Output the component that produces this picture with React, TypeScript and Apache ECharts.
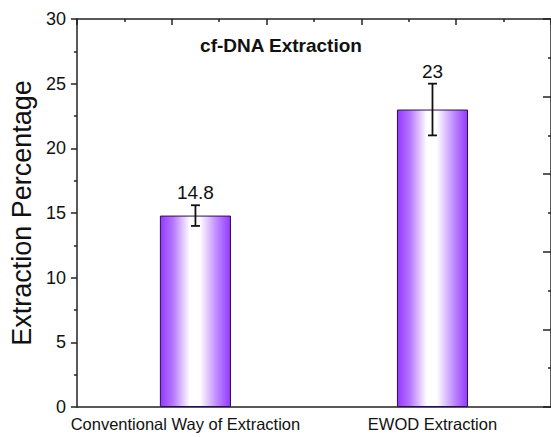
import React, { useEffect, useRef } from "react";
import * as echarts from "echarts";

const categories = ["Conventional Way of Extraction", "EWOD Extraction"];
const values = [14.8, 23];
const errors = [0.8, 2];
const valueLabels = ["14.8", "23"];
const titleText = "cf-DNA Extraction";
const yAxisName = "Extraction Percentage";

export default function App() {
  const ref = useRef<HTMLDivElement>(null);
  useEffect(() => {
    if (!ref.current) return;
    const chart = echarts.init(ref.current, null, { renderer: "svg" });
    const font = "Liberation Sans, Arial, sans-serif";
    const axisColor = "#222";
    const gradient = new echarts.graphic.LinearGradient(0, 0, 1, 0, [
      { offset: 0, color: "#9438ff" },
      { offset: 0.18, color: "#b577ff" },
      { offset: 0.42, color: "#ffffff" },
      { offset: 0.56, color: "#ffffff" },
      { offset: 0.8, color: "#c08cff" },
      { offset: 1, color: "#9438ff" },
    ]);
    chart.setOption({
      animation: false,
      backgroundColor: "#fff",
      textStyle: { fontFamily: font },
      title: {
        text: titleText,
        left: 276,
        top: 31,
        textAlign: "center",
        textStyle: { fontFamily: font, fontSize: 19, fontWeight: "bold", color: "#111" },
      },
      grid: { left: 73, right: -4, top: 19, bottom: 30, containLabel: false },
      xAxis: [
        {
          type: "category",
          position: "bottom",
          data: [
            { value: categories[0], textStyle: { padding: [0, 20, 0, 0] } },
            { value: categories[1] },
          ],
          axisLine: { onZero: false, lineStyle: { color: axisColor, width: 1.5 } },
          axisTick: { alignWithLabel: true, length: 5, lineStyle: { color: axisColor, width: 1.5 } },
          axisLabel: { interval: 0, fontFamily: font, fontSize: 16.5, color: "#111", margin: 8 },
        },
        {
          type: "value",
          position: "top",
          min: 0,
          max: 5,
          interval: 1,
          axisLine: { show: true, onZero: false, lineStyle: { color: axisColor, width: 1.5 } },
          axisTick: { show: true, inside: true, length: 6, lineStyle: { color: axisColor, width: 1.5 } },
          minorTick: { show: true, splitNumber: 2, length: 3, lineStyle: { color: axisColor, width: 1.5 } },
          axisLabel: { show: false },
          splitLine: { show: false },
        },
      ],
      yAxis: [
        {
          type: "value",
          position: "left",
          min: 0,
          max: 30,
          interval: 5,
          name: yAxisName,
          nameLocation: "middle",
          nameGap: 38,
          nameTextStyle: { fontFamily: font, fontSize: 27, color: "#111" },
          axisLine: { show: true, onZero: false, lineStyle: { color: axisColor, width: 1.5 } },
          axisTick: { show: true, length: 6, lineStyle: { color: axisColor, width: 1.5 } },
          minorTick: { show: true, splitNumber: 2, length: 3, lineStyle: { color: axisColor, width: 1.5 } },
          axisLabel: { fontFamily: font, fontSize: 18, color: "#111", margin: 11 },
          splitLine: { show: false },
        },
        {
          type: "value",
          position: "right",
          min: 0,
          max: 5,
          interval: 1,
          axisLine: { show: true, onZero: false, lineStyle: { color: axisColor, width: 1.5 } },
          axisTick: { show: true, inside: true, length: 8, lineStyle: { color: axisColor, width: 1.5 } },
          minorTick: { show: true, splitNumber: 2, length: 3, lineStyle: { color: axisColor, width: 1.5 } },
          axisLabel: { show: false },
          splitLine: { show: false },
        },
      ],
      series: [
        {
          type: "bar",
          xAxisIndex: 0,
          yAxisIndex: 0,
          data: values,
          barWidth: "30%",
          itemStyle: { color: gradient, borderColor: "#2b1048", borderWidth: 1 },
        },
        {
          type: "custom",
          xAxisIndex: 0,
          yAxisIndex: 0,
          data: values.map((v, i) => [i, v, errors[i]]),
          z: 10,
          renderItem: (params: any, api: any) => {
            const idx = api.value(0);
            const v = api.value(1);
            const e = api.value(2);
            const top = api.coord([idx, v + e]);
            const bot = api.coord([idx, v - e]);
            const hw = 4.5;
            const st = { stroke: "#111", lineWidth: 1.8 };
            return {
              type: "group",
              children: [
                { type: "line", shape: { x1: top[0], y1: top[1], x2: bot[0], y2: bot[1] }, style: st },
                { type: "line", shape: { x1: top[0] - hw, y1: top[1], x2: top[0] + hw, y2: top[1] }, style: st },
                { type: "line", shape: { x1: bot[0] - hw, y1: bot[1], x2: bot[0] + hw, y2: bot[1] }, style: st },
                {
                  type: "text",
                  x: top[0],
                  y: top[1] - 3,
                  style: {
                    text: valueLabels[params.dataIndex],
                    fontFamily: font,
                    fontSize: 19,
                    fill: "#111",
                    align: "center",
                    verticalAlign: "bottom",
                  },
                },
              ],
            };
          },
        },
      ],
    });
    return () => chart.dispose();
  }, []);
  return <div ref={ref} style={{ width: 551, height: 437, position: "absolute", left: 0, top: 0 }} />;
}
